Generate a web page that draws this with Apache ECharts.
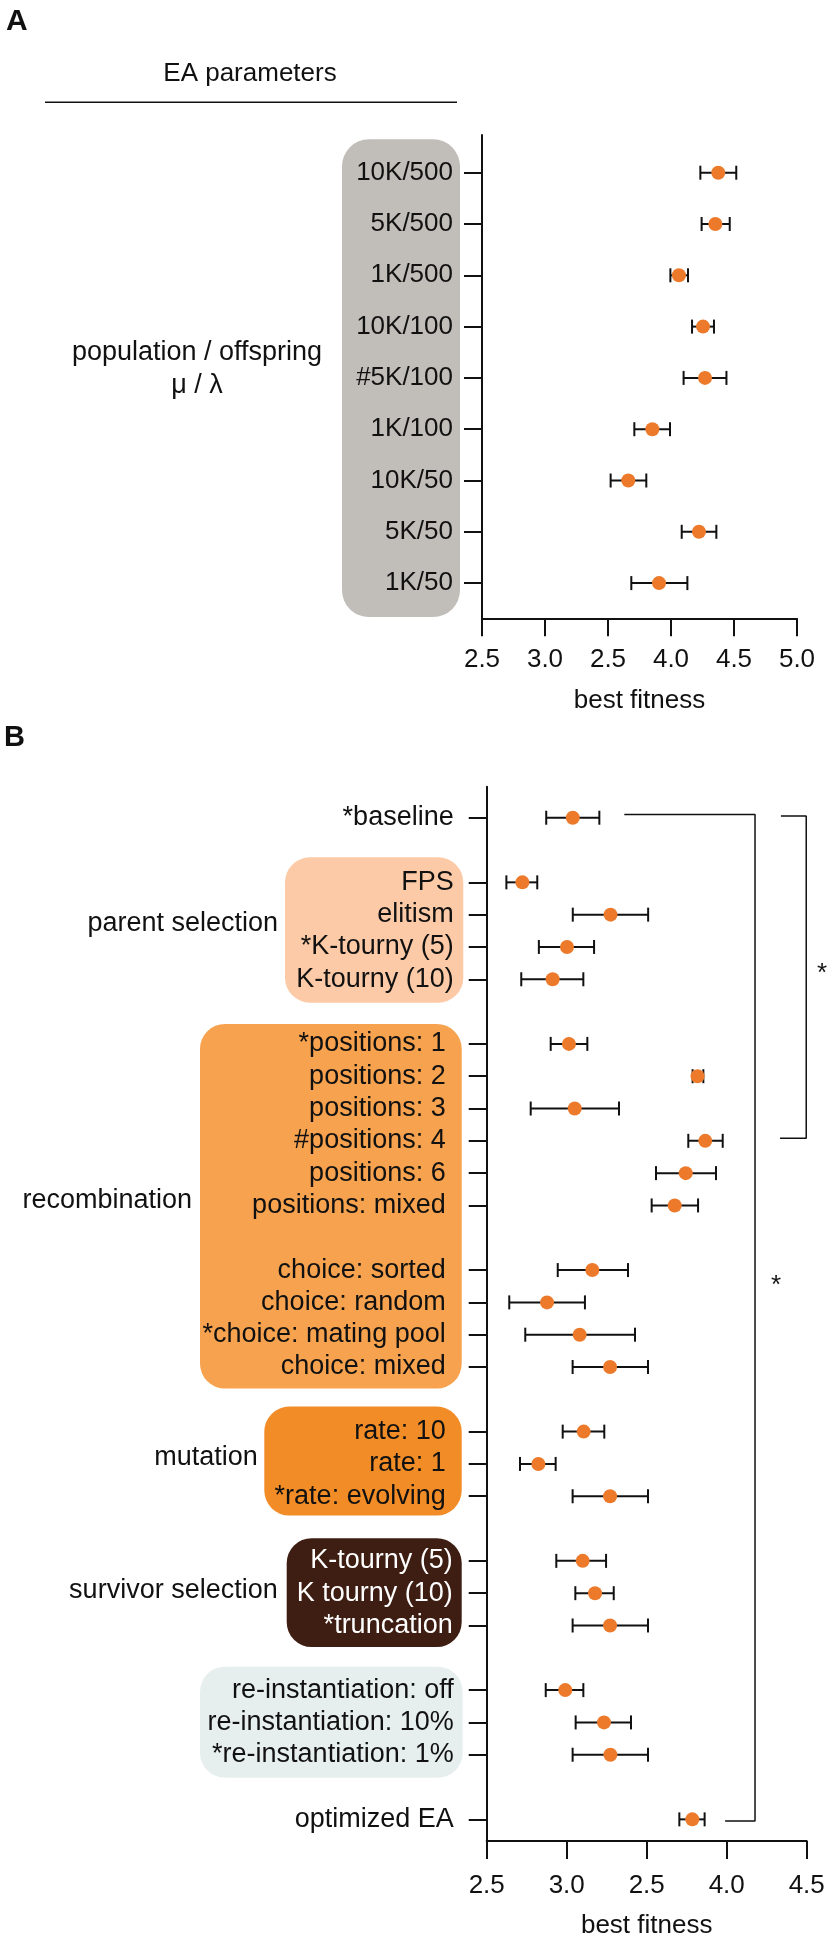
<!DOCTYPE html>
<html><head><meta charset="utf-8">
<script src="https://cdn.jsdelivr.net/npm/echarts@6/dist/echarts.min.js"></script>
<style>html,body{margin:0;padding:0;background:#fff}#c{width:833px;height:1944px}</style>
</head><body><div id="c"></div>
<script>
// ---------- Panel A data ----------
const catsA = ['10K/500','5K/500','1K/500','10K/100','#5K/100','1K/100','10K/50','5K/50','1K/50'];
const meanA = [4.375, 4.352, 4.063, 4.254, 4.27, 3.852, 3.661, 4.222, 3.905];
const lowA  = [4.233, 4.243, 3.995, 4.167, 4.10, 3.709, 3.521, 4.085, 3.685];
const highA = [4.518, 4.466, 4.135, 4.341, 4.44, 3.992, 3.804, 4.36, 4.13];
const ticksA = ['2.5','3.0','2.5','4.0','4.5','5.0'];

// ---------- Panel B data ----------
const catsB = ['*baseline','FPS','elitism','*K-tourny (5)','K-tourny (10)',
  '*positions: 1','positions: 2','positions: 3','#positions: 4','positions: 6','positions: mixed',
  'choice: sorted','choice: random','*choice: mating pool','choice: mixed',
  'rate: 10','rate: 1','*rate: evolving',
  'K-tourny (5)','K tourny (10)','*truncation',
  're-instantiation: off','re-instantiation: 10%','*re-instantiation: 1%',
  'optimized EA'];
const rowB  = [0,2,3,4,5,7,8,9,10,11,12,14,15,16,17,19,20,21,23,24,25,27,28,29,31];
const meanB = [3.038,2.723,3.274,3.002,2.912,
  3.014,3.818,3.05,3.866,3.744,3.675,
  3.16,2.877,3.081,3.271,
  3.106,2.823,3.271,
  3.10,3.177,3.271,
  2.991,3.233,3.273,
  3.785];
const lowB  = [2.872,2.623,3.038,2.826,2.716,
  2.90,3.787,2.775,3.76,3.558,3.531,
  2.944,2.641,2.741,3.037,
  2.975,2.708,3.037,
  2.935,3.054,3.037,
  2.869,3.056,3.037,
  3.704];
const highB = [3.204,2.816,3.509,3.171,3.104,
  3.129,3.854,3.327,3.975,3.933,3.821,
  3.383,3.114,3.427,3.508,
  3.235,2.931,3.508,
  3.246,3.294,3.508,
  3.104,3.402,3.508,
  3.862];
const ticksB = ['2.5','3.0','2.5','4.0','4.5'];

// ---------- styling / layout ----------
const FONT = "'Liberation Sans', Arial, Helvetica, sans-serif";
const INK = '#111';
const DOT = '#ec7a2a';
const groupsB = [
  {name:'parent selection', from:2, to:5, color:'#fccaa6', x0:285, x1:463.3, padT:25, padB:23.4, labelRight:278, labelY:924, style:'n'},
  {name:'recombination', from:7, to:17, color:'#f7a24e', x0:200, x1:461.7, padT:20, padB:21.6, labelRight:192, labelY:1201, style:'r'},
  {name:'mutation', from:19, to:21, color:'#f28c27', x0:264.3, x1:461.7, padT:25, padB:19.3, labelRight:257.7, labelY:1458, style:'r'},
  {name:'survivor selection', from:23, to:25, color:'#3e1e13', x0:286.7, x1:461.7, padT:22.7, padB:21.6, labelRight:277.7, labelY:1591, style:'w'},
  {name:'', from:27, to:29, color:'#e7efee', x0:200, x1:462.7, padT:23.4, padB:23, style:'n'}
];
function styleForRow(r){
  for (const g of groupsB) if (r>=g.from && r<=g.to) return g.style;
  return 'n';
}

const rowsA = catsA.map((_,i)=>i);
const errA = catsA.map((_,i)=>[lowA[i], highA[i], rowsA[i]]);
const dotA = catsA.map((_,i)=>[meanA[i], rowsA[i]]);
const errB = catsB.map((_,i)=>[lowB[i], highB[i], rowB[i]]);
const dotB = catsB.map((_,i)=>[meanB[i], rowB[i]]);

function errSeries(idx, data, capHalf){
  return {type:'custom', xAxisIndex:idx, yAxisIndex:idx, data, encode:{x:[0,1], y:2}, z:2, clip:false,
    renderItem(params, api){
      const y = api.value(2);
      const a = api.coord([api.value(0), y]);
      const b = api.coord([api.value(1), y]);
      const st = {stroke:INK, lineWidth:2};
      return {type:'group', children:[
        {type:'line', shape:{x1:a[0],y1:a[1],x2:b[0],y2:b[1]}, style:st},
        {type:'line', shape:{x1:a[0],y1:a[1]-capHalf,x2:a[0],y2:a[1]+capHalf}, style:st},
        {type:'line', shape:{x1:b[0],y1:b[1]-capHalf,x2:b[0],y2:b[1]+capHalf}, style:st}
      ]};
    }};
}

// significance brackets (rows connected and x extents in data units)
const brackets = [
  {rowTop:-0.1, rowBot:31.05, xTop:3.36, xBot:3.99, xV:4.177},
  {rowTop:-0.05, rowBot:9.92, xTop:4.339, xBot:4.333, xV:4.497}
];

const axisLineStyle = {color:INK, width:2};
const labelBase = {color:INK, fontSize:26, fontFamily:FONT};

const option = {
  backgroundColor:'#fff',
  animation:false,
  textStyle:{fontFamily:FONT},
  grid:[
    {left:482, top:135, width:315, height:483.3},
    {left:486.7, top:786.7, width:320, height:1055}
  ],
  xAxis:[
    {gridIndex:0, type:'value', min:2.5, max:5, interval:0.5, position:'bottom',
     axisLine:{show:true, onZero:false, lineStyle:axisLineStyle},
     axisTick:{show:true, length:18, lineStyle:{color:INK, width:2}},
     splitLine:{show:false},
     axisLabel:{...labelBase, margin:29, formatter:(v)=>ticksA[Math.round((v-2.5)/0.5)]},
     name:'best fitness', nameLocation:'middle', nameGap:70,
     nameTextStyle:{...labelBase}},
    {gridIndex:1, type:'value', min:2.5, max:4.5, interval:0.5, position:'bottom',
     axisLine:{show:true, onZero:false, lineStyle:axisLineStyle},
     axisTick:{show:true, length:18, lineStyle:{color:INK, width:2}},
     splitLine:{show:false},
     axisLabel:{...labelBase, margin:32, formatter:(v)=>ticksB[Math.round((v-2.5)/0.5)]},
     name:'best fitness', nameLocation:'middle', nameGap:72,
     nameTextStyle:{...labelBase}}
  ],
  yAxis:[
    {gridIndex:0, type:'value', min:-0.735, max:8.686, inverse:true,
     axisLine:{show:true, onZero:false, lineStyle:axisLineStyle},
     axisTick:{show:true, length:18, lineStyle:{color:INK, width:2}, customValues:rowsA},
     splitLine:{show:false},
     axisLabel:{...labelBase, margin:29, customValues:rowsA,
       formatter:(v)=>catsA[rowsA.indexOf(Math.round(v))] || ''}},
    {gridIndex:1, type:'value', min:-0.96, max:31.67, inverse:true,
     axisLine:{show:true, onZero:false, lineStyle:axisLineStyle},
     axisTick:{show:true, length:18, lineStyle:{color:INK, width:2}, customValues:rowB},
     splitLine:{show:false},
     axisLabel:{color:INK, fontSize:27, fontFamily:FONT, margin:32, customValues:rowB,
       formatter:(v)=>{
         const r = Math.round(v); const i = rowB.indexOf(r);
         if (i<0) return '';
         return '{'+styleForRow(r)+'|'+catsB[i]+'}';
       },
       rich:{
         n:{color:INK, fontSize:27, fontFamily:FONT, padding:[0,1,0,0]},
         r:{color:INK, fontSize:27, fontFamily:FONT, padding:[0,9,0,0]},
         w:{color:'#ffffff', fontSize:27, fontFamily:FONT, padding:[0,2,0,0]}
       }}}
  ],
  series:[
    errSeries(0, errA, 7),
    {type:'scatter', xAxisIndex:0, yAxisIndex:0, data:dotA, symbolSize:14, itemStyle:{color:DOT, opacity:1}, z:3},
    errSeries(1, errB, 7),
    {type:'scatter', xAxisIndex:1, yAxisIndex:1, data:dotB, symbolSize:14, itemStyle:{color:DOT, opacity:1}, z:3},
    ...brackets.map(b=>({type:'line', xAxisIndex:1, yAxisIndex:1, clip:false, symbol:'none', z:1,
      lineStyle:{color:INK, width:1.5},
      data:[[b.xTop,b.rowTop],[b.xV,b.rowTop],[b.xV,b.rowBot],[b.xBot,b.rowBot]]}))
  ]
};

const chart = echarts.init(document.getElementById('c'), null, {renderer:'canvas'});
chart.setOption(option);

function rowY(grid, row){ return chart.convertToPixel({gridIndex:grid}, [3, row])[1]; }
const gfx = [];
function box(x0, x1, y0, y1, r, color){
  gfx.push({type:'rect', z:-10, shape:{x:x0, y:y0, width:x1-x0, height:y1-y0, r:r}, style:{fill:color}});
}
function txt(text, x, y, align, size, weight){
  gfx.push({type:'text', z:10, x:x, y:y, style:{text:text, fill:INK, font:(weight||'normal')+' '+size+'px '+FONT, align:align, verticalAlign:'middle'}});
}
// panel A box
box(342, 460, rowY(0,0)-33.4, rowY(0,8)+34, 27, '#c1bdb8');
// panel B boxes
for (const g of groupsB){
  box(g.x0, g.x1, rowY(1,g.from)-g.padT, rowY(1,g.to)+g.padB, 25, g.color);
  if (g.name) txt(g.name, g.labelRight, g.labelY, 'right', 27);
}
// titles and annotations
txt('A', 6, 22, 'left', 30, 'bold');
txt('B', 4, 738, 'left', 29, 'bold');
txt('EA parameters', 250, 74, 'center', 26);
gfx.push({type:'line', z:10, shape:{x1:45, y1:102.3, x2:457, y2:102.3}, style:{stroke:INK, lineWidth:1.5}});
txt('population / offspring', 197, 353, 'center', 27);
txt('μ / λ', 197, 386, 'center', 27);
txt('*', 776, 1286, 'center', 26);
txt('*', 822, 974, 'center', 26);
chart.setOption({graphic:{elements:gfx}});
</script>
</body></html>
